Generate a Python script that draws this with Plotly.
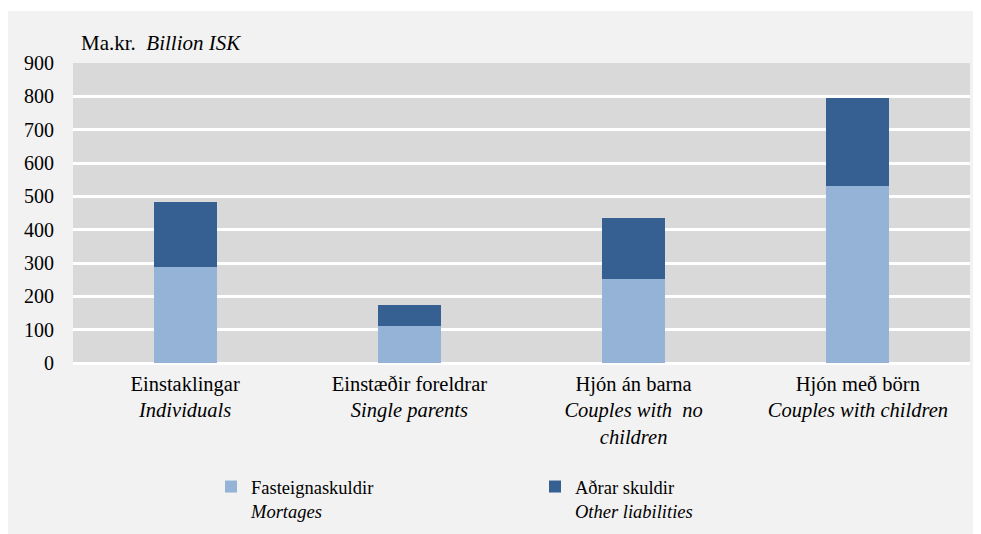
import plotly.graph_objects as go

categories = [
    "Einstaklingar<br><i>Individuals</i>",
    "Einstæðir foreldrar<br><i>Single parents</i>",
    "Hjón án barna<br><i>Couples with  no</i><br><i>children</i>",
    "Hjón með börn<br><i>Couples with children</i>",
]
mortgages = [288, 111, 253, 531]
other_liabilities = [194, 62, 183, 265]
series_names = ["Fasteignaskuldir<br><i>Mortages</i>", "Aðrar skuldir<br><i>Other liabilities</i>"]
y_ticks = [0, 100, 200, 300, 400, 500, 600, 700, 800, 900]

FONT = "Liberation Serif"
OFF = 8  # page body margin
W, H = 973, 526
L, R, T, B = 65, 11, 55, 171
pw, ph = W - L - R, H - T - B

fig = go.Figure()
fig.add_trace(go.Bar(x=categories, y=mortgages, name=series_names[0],
                     marker=dict(color="#95b3d7", line=dict(width=0))))
fig.add_trace(go.Bar(x=categories, y=other_liabilities, name=series_names[1],
                     marker=dict(color="#366092", line=dict(width=0))))

# helpers: convert screen pixel positions to paper coordinates
def px_x(p):
    return (p - OFF - L) / pw

def px_y(p):
    return 1 - (p - OFF - T) / ph

fig.update_layout(
    width=W, height=H,
    barmode="stack", bargap=0.72,
    margin=dict(l=L, r=R, t=T, b=B, autoexpand=False),
    paper_bgcolor="#f2f2f2", plot_bgcolor="#d9d9d9",
    font=dict(family=FONT, size=20, color="black"),
    showlegend=True,
    legend=dict(orientation="h", x=px_x(211), y=px_y(468), xanchor="left", yanchor="top",
                entrywidth=279, entrywidthmode="pixels", valign="top", traceorder="normal",
                font=dict(family=FONT, size=18.5, color="black"),
                bgcolor="rgba(0,0,0,0)", itemwidth=30),
    xaxis=dict(showgrid=False, showline=False, ticks="", tickfont=dict(size=20.5),
               ticklabelstandoff=6),
    yaxis=dict(range=[0, 900], tickvals=y_ticks, showgrid=True, gridcolor="white",
               gridwidth=2.5, zeroline=True, zerolinecolor="white", zerolinewidth=2.5,
               showline=False, ticks="", tickfont=dict(size=20), ticklabelstandoff=18),
    annotations=[dict(text="Ma.kr.  <i>Billion ISK</i>", xref="paper", yref="paper",
                      x=px_x(79), y=px_y(43), xanchor="left", yanchor="middle",
                      showarrow=False, font=dict(family=FONT, size=21, color="black"))],
    shapes=[
        dict(type="rect", xref="paper", yref="paper", x0=px_x(0), x1=px_x(990),
             y0=px_y(11), y1=px_y(0), fillcolor="white", line=dict(width=0), layer="below"),
    ],
)

fig.write_html("out.html")
